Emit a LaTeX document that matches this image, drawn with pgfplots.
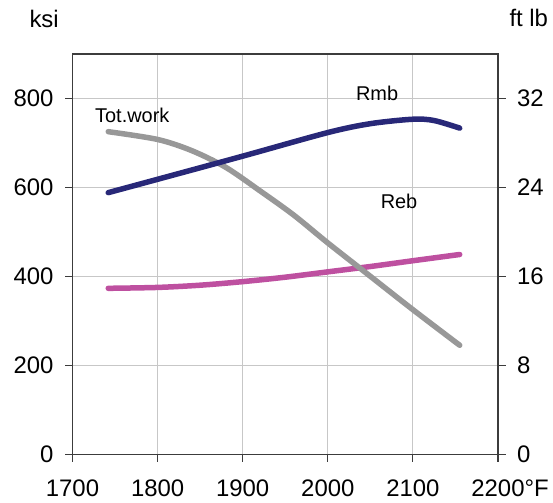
\documentclass[border=0pt]{standalone}
\usepackage{fontspec}
\setmainfont{Liberation Sans}
\usepackage{pgfplots}
\pgfplotsset{compat=1.18}
\definecolor{rmbc}{RGB}{40,40,120}
\definecolor{rebc}{RGB}{190,80,160}
\definecolor{totc}{RGB}{152,152,152}
\definecolor{axc}{RGB}{60,60,60}
\begin{document}
\begin{tikzpicture}
\pgfplotsset{
  common/.style={
    at={(72.5bp,48.7bp)}, anchor=south west,
    scale only axis, width=425.5bp, height=400.5bp,
    xmin=1700, xmax=2200,
    tick align=outside, major tick length=7.5bp,
    axis line style={draw=axc, line width=1.3bp},
    tick style={draw=axc, line width=1.1bp},
    ticklabel style={font=\fontsize{24}{28}\selectfont},
  }
}
\begin{axis}[common,
  ymin=0, ymax=900,
  xtick={1700,1800,1900,2000,2100,2200},
  xticklabels={1700,1800,1900,2000,2100,2200\rlap{°F}},
  ytick={0,200,400,600,800},
  yticklabels={0,200,400,600,800},
  xtick pos=bottom, ytick pos=left,
  xticklabel style={yshift=-14bp},
  yticklabel style={xshift=-8bp},
  grid=major, major grid style={draw=black!22, line width=0.9bp},
]
\addplot[rebc, line width=5.5bp, line cap=round, smooth] coordinates {
(1742,373) (1800,375) (1850,380) (1900,388) (1950,398) (2000,410) (2050,422) (2100,435) (2155,449)};
\node[anchor=base west, inner sep=0, font=\fontsize{20}{24}\selectfont] at (axis cs:1726.4,745) {Tot.work};
\node[anchor=base west, inner sep=0, font=\fontsize{20}{24}\selectfont] at (axis cs:2033,796) {Rmb};
\node[anchor=base west, inner sep=0, font=\fontsize{20}{24}\selectfont] at (axis cs:2062,553) {Reb};
\end{axis}
\begin{axis}[common,
  ymin=0, ymax=36,
  ytick={0,8,16,24,32},
  yticklabels={0,8,16,24,32},
  yticklabel style={xshift=8bp},
  axis y line*=right, axis x line=none,
]
\addplot[totc, line width=5.5bp, line cap=round, smooth] coordinates {
(1742,29.0) (1800,28.3) (1840,27.3) (1880,25.8) (1920,23.7) (1960,21.5) (2000,19.0) (2050,16.0) (2100,13.0) (2155,9.8)};
\end{axis}
\begin{axis}[common, ymin=0, ymax=900, hide axis]
\addplot[rmbc, line width=5.5bp, line cap=round, smooth] coordinates {
(1742,588) (1800,618) (1900,670) (2000,723) (2050,743) (2100,753) (2125,750) (2155,733)};
\end{axis}
\fill[axc] (71.85bp,448.1bp) rectangle (498.65bp,449.5bp);
\node[anchor=base west, inner sep=0, font=\fontsize{24}{28}\selectfont] at (29.3bp,475.7bp) {ksi};
\node[anchor=base west, inner sep=0, font=\fontsize{24}{28}\selectfont] at (509.3bp,476.3bp) {ft lb};
\pgfresetboundingbox
\path[use as bounding box] (0,0) rectangle (553bp,503bp);
\end{tikzpicture}
\end{document}
